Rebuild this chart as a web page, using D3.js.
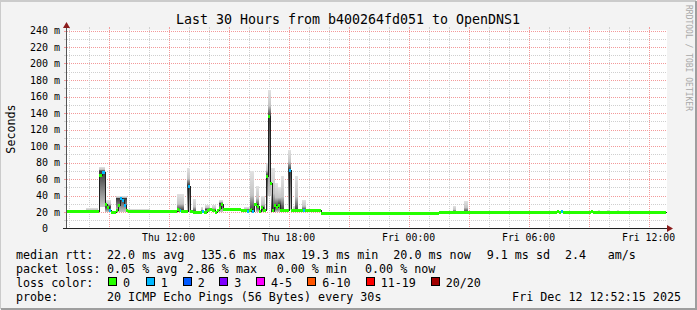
<!DOCTYPE html>
<html>
<head>
<meta charset="utf-8">
<script src="https://cdn.jsdelivr.net/npm/d3@7"></script>
<style>
    body { margin: 0; background: #fff; }
    svg { display: block; }
    text { font-family: "DejaVu Sans Mono", monospace; fill: #000; }
</style>
</head>
<body>
<svg id="chart" width="697" height="310"></svg>
<script>
// time window of the graph
const startTime = new Date(2025, 11, 11, 6, 52, 15);
const endTime = new Date(2025, 11, 12, 12, 52, 15);

// median rtt steps: hours after start, value in ms, lost pings (of 20)
const medHours = [0.05, 1.65, 1.8, 1.95, 2.05, 2.15, 2.25, 2.5, 2.6, 2.7, 2.8, 2.9, 3.0, 3.1,
    5.55, 5.65, 5.7, 5.75, 6.1, 6.2, 6.35, 6.8, 6.9, 7.05, 7.15, 7.3, 7.45, 7.55, 7.65, 7.75, 7.85,
    8.75, 9.05, 9.15, 9.25, 9.3, 9.4, 9.55, 9.65, 9.75, 9.85, 10.0, 10.1, 10.2, 10.3, 10.4, 10.5,
    10.6, 10.7, 11.15, 11.25, 11.85, 11.95, 12.75, 18.65, 24.55, 24.65, 24.75, 24.85, 26.25, 26.35, 30.0];
const medMs = [21, 65, 69, 30, 26, 23, 20, 22, 28, 37, 34, 29, 22, 21,
    24, 22, 22, 21, 52, 21, 20, 21, 20, 23, 24, 22, 20, 23, 25, 30, 24,
    23, 21, 22, 24, 21, 30, 27, 21, 26, 23, 64, 136, 55, 22, 29, 26,
    29, 22, 71, 22, 22, 22, 19.3, 20, 21, 20, 21, 20, 21, 20, 20];
const medLoss = [0, 0, 1, 0, 0, 1, 0, 0, 0, 1, 1, 1, 0, 0,
    0, 0, 1, 0, 1, 0, 0, 1, 0, 0, 0, 0, 0, 0, 0, 0, 0,
    0, 1, 0, 0, 1, 0, 0, 0, 0, 0, 0, 0, 0, 0, 0, 0,
    0, 0, 1, 0, 1, 0, 0, 0, 0, 0, 1, 0, 0, 0, 0];

// smoke bars: hours after start (from, to), lowest and highest ping in ms
const smokeFrom = [1.0, 1.65, 1.95, 2.5, 3.05, 5.55, 6.05, 6.35, 6.75, 6.95, 7.3, 7.65, 8.9, 9.2, 9.5,
    9.75, 10.0, 10.1, 10.25, 10.45, 10.6, 10.75, 11.1, 11.35, 11.45, 11.8, 19.35, 19.9, 26.6, 27.05, 27.55];
const smokeTo = [1.6, 1.95, 2.25, 3.05, 4.2, 5.9, 6.2, 6.5, 6.85, 7.2, 7.5, 7.85, 9.2, 9.4, 9.65,
    9.95, 10.1, 10.25, 10.45, 10.6, 10.75, 10.9, 11.25, 11.45, 11.6, 12.0, 19.5, 20.1, 26.7, 27.15, 27.65];
const smokeLow = [20, 25, 20, 20, 20, 20, 20, 20, 20, 20, 20, 20, 22, 20, 20,
    20, 22, 40, 20, 20, 20, 20, 22, 20, 20, 20, 20, 20, 20, 20, 20];
const smokeHigh = [25, 74, 34, 40, 24, 42, 73, 36, 26, 28, 28, 34, 26, 70, 52,
    40, 79, 168, 73, 55, 50, 64, 95, 27, 64, 34, 27, 33, 23, 23, 23];

// axis ticks
const yTicks = [0, 20, 40, 60, 80, 100, 120, 140, 160, 180, 200, 220, 240];
const xTickLabels = ["Thu 12:00", "Thu 18:00", "Fri 00:00", "Fri 06:00", "Fri 12:00"];
const xTickTimes = [new Date(2025, 11, 11, 12), new Date(2025, 11, 11, 18), new Date(2025, 11, 12, 0),
    new Date(2025, 11, 12, 6), new Date(2025, 11, 12, 12)];

// legend
const lossLevels = [0, 1, 2, 3, 4, 6, 11, 20];
const lossLabels = ["0", "1", "2", "3", "4-5", "6-10", "11-19", "20/20"];
const lossColors = ["#26ff00", "#00b8ff", "#0059ff", "#7e00ff", "#ff00ff", "#ff5500", "#ff0000", "#a10000"];
const rttStats = ["22.0 ms avg", "135.6 ms max", "19.3 ms min", "20.0 ms now", "9.1 ms sd", "2.4", "am/s"];
const lossStats = ["0.05 % avg", "2.86 % max", "0.00 % min", "0.00 % now"];
const probeText = "20 ICMP Echo Pings (56 Bytes) every 30s";
const stampText = "Fri Dec 12 12:52:15 2025";
const titleText = "Last 30 Hours from b400264fd051 to OpenDNS1";

const W = 697, H = 310;
const plot = { left: 66, right: 666, top: 30.5, bottom: 228.5 };

const hour = h => new Date(startTime.getTime() + h * 3600e3);

const x = d3.scaleTime().domain([startTime, endTime]).range([plot.left, plot.right]);
const y = d3.scaleLinear().domain([0, 240]).range([plot.bottom, plot.top]);
const px = v => Math.round(v) + 0.5;
const lossColor = l => {
    let c = lossColors[0];
    lossLevels.forEach((lv, i) => { if (l >= lv) c = lossColors[i]; });
    return c;
};

const svg = d3.select("#chart");

// background + frame
svg.append("rect").attr("width", W).attr("height", H).attr("fill", "#f3f3f3");
svg.append("path").attr("d", `M0,${H - 1}V1H${W - 1}`).attr("fill", "none").attr("stroke", "#cbcbcb").attr("stroke-width", 2);
svg.append("path").attr("d", `M1,${H - 1}H${W - 1}V1`).attr("fill", "none").attr("stroke", "#9e9e9e").attr("stroke-width", 2);

// canvas
svg.append("rect")
    .attr("x", plot.left + 1).attr("y", 30)
    .attr("width", plot.right - plot.left).attr("height", 198)
    .attr("fill", "#fff");

// grid
const grid = svg.append("g").attr("shape-rendering", "crispEdges");
const minorY = d3.range(10, 241, 20);
grid.selectAll(".gy-minor").data(minorY).join("line")
    .attr("x1", plot.left + 1).attr("x2", plot.right)
    .attr("y1", d => px(y(d))).attr("y2", d => px(y(d)))
    .attr("stroke", "#cfcfcf").attr("stroke-dasharray", "1,1");
grid.selectAll(".gy-major").data(yTicks.slice(1)).join("line")
    .attr("x1", plot.left + 1).attr("x2", plot.right)
    .attr("y1", d => px(y(d))).attr("y2", d => px(y(d)))
    .attr("stroke", "#f39a9a").attr("stroke-dasharray", "1,1");

const hoursAll = d3.timeHour.range(startTime, endTime);
const minorX = hoursAll.filter(d => d.getHours() % 3 !== 0);
const majorX = hoursAll.filter(d => d.getHours() % 3 === 0);
grid.selectAll(".gx-minor").data(minorX).join("line")
    .attr("x1", d => px(x(d))).attr("x2", d => px(x(d)))
    .attr("y1", plot.top - 1).attr("y2", plot.bottom)
    .attr("stroke", "#cfcfcf").attr("stroke-dasharray", "1,1");
grid.selectAll(".gx-major").data(majorX).join("line")
    .attr("x1", d => px(x(d))).attr("x2", d => px(x(d)))
    .attr("y1", plot.top - 1).attr("y2", plot.bottom)
    .attr("stroke", "#f39a9a").attr("stroke-dasharray", "1,1");

// small ticks just outside the canvas
grid.selectAll(".tx").data(hoursAll).join("line")
    .attr("x1", d => px(x(d))).attr("x2", d => px(x(d)))
    .attr("y1", plot.top - 4).attr("y2", plot.top - 2)
    .attr("stroke", d => d.getHours() % 3 === 0 ? "#f39a9a" : "#cfcfcf");
grid.selectAll(".ty").data(d3.range(10, 241, 10)).join("line")
    .attr("x1", plot.left - 2).attr("x2", plot.left)
    .attr("y1", d => px(y(d))).attr("y2", d => px(y(d)))
    .attr("stroke", d => d % 20 === 0 ? "#f39a9a" : "#cfcfcf");

// median points
const med = medHours.map((h, i) => ({ t: hour(h), v: medMs[i], l: medLoss[i] }));
const medAt = t => {
    let v = med[0].v;
    med.forEach(d => { if (d.t <= t) v = d.v; });
    return v;
};

// smoke, darker close to the median
const defs = svg.append("defs");
const smoke = svg.append("g").attr("shape-rendering", "crispEdges");
smokeFrom.forEach((h, i) => {
    const t0 = hour(h), t1 = hour(smokeTo[i]);
    const m = Math.min(Math.max(medAt(new Date((t0.getTime() + t1.getTime()) / 2)), smokeLow[i]), smokeHigh[i]);
    const yTop = y(smokeHigh[i]), yBot = y(smokeLow[i]);
    const span = Math.max(yBot - yTop, 1);
    const off = (y(m) - yTop) / span;
    const grad = defs.append("linearGradient")
        .attr("id", "sm" + i)
        .attr("x1", 0).attr("x2", 0).attr("y1", 0).attr("y2", 1);
    grad.append("stop").attr("offset", 0).attr("stop-color", "#e2e2e2");
    grad.append("stop").attr("offset", off * 0.6).attr("stop-color", "#c4c4c4");
    grad.append("stop").attr("offset", off).attr("stop-color", "#3a3a3a");
    grad.append("stop").attr("offset", 1).attr("stop-color", off > 0.9 ? "#3a3a3a" : "#c8c8c8");
    smoke.append("rect")
        .attr("x", Math.round(x(t0))).attr("y", Math.round(yTop))
        .attr("width", Math.max(1, Math.round(x(t1)) - Math.round(x(t0))))
        .attr("height", Math.max(1, Math.round(span)))
        .attr("fill", `url(#sm${i})`);
});

// black median line under the loss colours
const medLine = d3.line()
    .x(d => Math.round(x(d.t)) + 0.5)
    .y(d => Math.round(y(d.v)) + 0.5)
    .curve(d3.curveStepAfter);
svg.append("path")
    .datum(med)
    .attr("fill", "none")
    .attr("stroke", "#202020")
    .attr("stroke-width", 1)
    .attr("shape-rendering", "crispEdges")
    .attr("d", medLine);

// loss coloured median segments
svg.append("g").attr("shape-rendering", "crispEdges")
    .selectAll("rect").data(med.slice(0, -1)).join("rect")
    .attr("x", d => Math.round(x(d.t)))
    .attr("y", d => Math.round(y(d.v)) - 1)
    .attr("width", (d, i) => Math.max(1, Math.round(x(med[i + 1].t)) - Math.round(x(d.t))))
    .attr("height", 2.5)
    .attr("fill", d => lossColor(d.l));

// axes
const axes = svg.append("g").attr("shape-rendering", "crispEdges");
axes.append("line").attr("x1", plot.left + 0.5).attr("x2", plot.left + 0.5)
    .attr("y1", plot.bottom).attr("y2", 26).attr("stroke", "#555");
axes.append("line").attr("x1", plot.left - 3).attr("x2", 670)
    .attr("y1", plot.bottom).attr("y2", plot.bottom).attr("stroke", "#222");
svg.append("path").attr("d", `M${plot.left + 0.5},22L${plot.left - 3},28L${plot.left + 4},28Z`).attr("fill", "#8b1c1c");
svg.append("path").attr("d", `M673,${plot.bottom}L667,${plot.bottom - 3.5}L667,${plot.bottom + 3.5}Z`).attr("fill", "#8b1c1c");

// y labels
svg.append("g").selectAll("text").data(yTicks).join("text")
    .attr("x", d => d === 0 ? 48 : 60)
    .attr("y", d => y(d) + 3.5)
    .attr("text-anchor", "end")
    .attr("font-size", "10px")
    .text(d => d === 0 ? "0" : `${d} m`);

// x labels
svg.append("g").selectAll("text").data(xTickTimes).join("text")
    .attr("x", d => x(d))
    .attr("y", 241)
    .attr("text-anchor", "middle")
    .attr("font-size", "9.8px")
    .text((d, i) => xTickLabels[i]);

// title, axis name, watermark
svg.append("text").attr("x", 348).attr("y", 24).attr("text-anchor", "middle")
    .attr("font-size", "13.3px").text(titleText);
svg.append("text").attr("transform", "translate(15,129) rotate(-90)").attr("text-anchor", "middle")
    .attr("font-size", "11.7px").text("Seconds");
svg.append("text").attr("transform", "translate(686,5) rotate(90)")
    .attr("font-size", "8px").style("fill", "#a8a8a8").text("RRDTOOL / TOBI OETIKER");

// legend
const fs = "11.7px";
const legend = svg.append("g").attr("font-size", fs);
const rttX = [107, 200.7, 301, 393.3, 486.7, 565, 607.7];
const lossX = [107, 186.7, 276.7, 365];
const boxX = [108, 145.7, 182.7, 219.3, 256, 307.3, 365.7, 430.7];

legend.append("text").attr("x", 16).attr("y", 258.5).text("median rtt:");
rttStats.forEach((s, i) => legend.append("text").attr("x", rttX[i]).attr("y", 258.5).text(s));
legend.append("text").attr("x", 16).attr("y", 272.5).text("packet loss:");
lossStats.forEach((s, i) => legend.append("text").attr("x", lossX[i]).attr("y", 272.5).text(s));
legend.append("text").attr("x", 16).attr("y", 286.5).text("loss color:");
lossLabels.forEach((s, i) => {
    legend.append("rect")
        .attr("x", Math.round(boxX[i]) + 0.5).attr("y", 277.5)
        .attr("width", 8).attr("height", 8)
        .attr("fill", lossColors[i]).attr("stroke", "#000");
    legend.append("text").attr("x", boxX[i] + 15).attr("y", 286.5).text(s);
});
legend.append("text").attr("x", 16).attr("y", 300.5).text("probe:");
legend.append("text").attr("x", 107).attr("y", 300.5).text(probeText);
legend.append("text").attr("x", 681).attr("y", 300.5).attr("text-anchor", "end").text(stampText);
</script>
</body>
</html>
